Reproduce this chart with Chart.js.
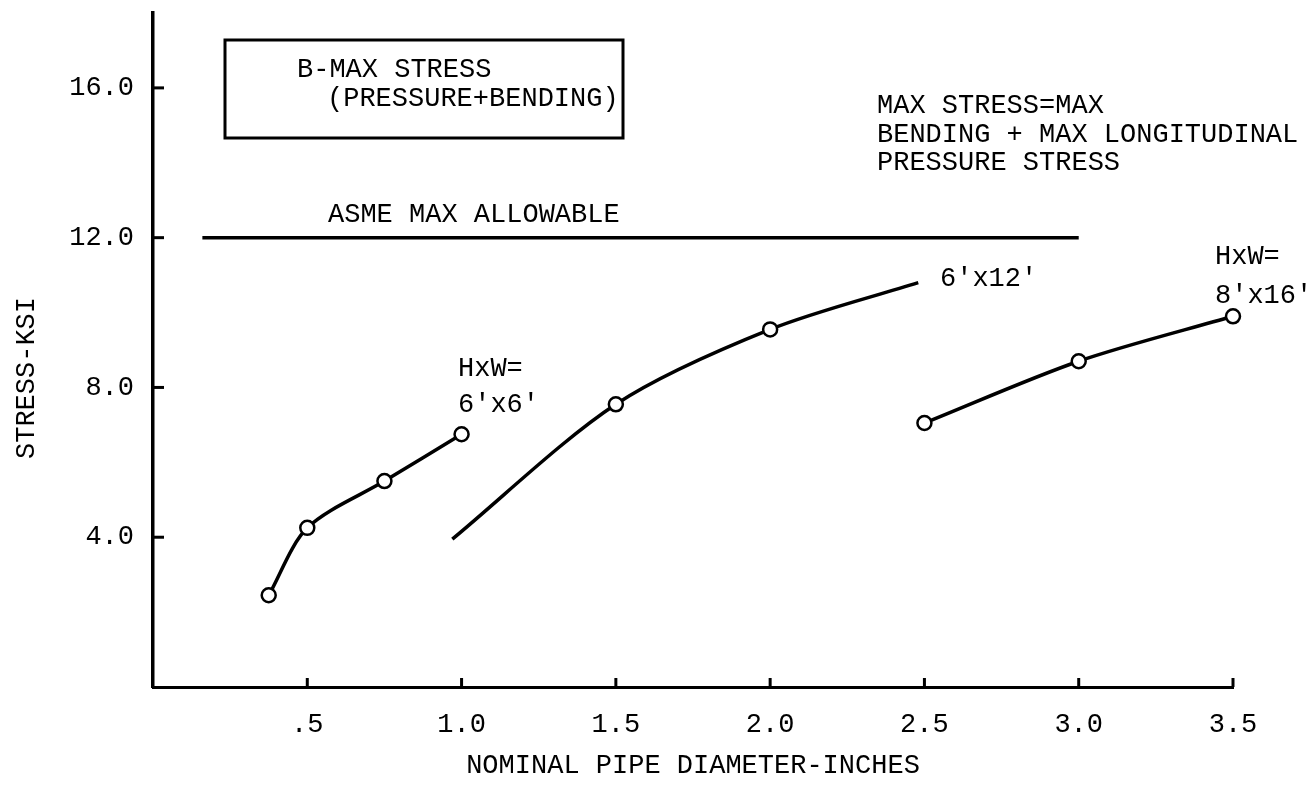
<!DOCTYPE html>
<html>
<head>
<meta charset="utf-8">
<script src="https://cdn.jsdelivr.net/npm/chart.js@4.4.1/dist/chart.umd.min.js"></script>
<style>
  html, body { margin: 0; padding: 0; background: #fff; }
  #wrap { width: 1313px; height: 788px; }
</style>
</head>
<body>
<div id="wrap"><canvas id="stressChart"></canvas></div>
<script>
// pipe sizes (in) and max stress (ksi) for each H x W frame
const sizes6x6 = [0.375, 0.5, 0.75, 1.0];
const stress6x6 = [2.45, 4.25, 5.5, 6.75];

const sizes6x12 = [0.97, 1.5, 2.0, 2.48];
const stress6x12 = [3.95, 7.55, 9.55, 10.8];
const markers6x12 = [0, 7, 7, 0]; // only the computed sizes get a circle

const sizes8x16 = [2.5, 3.0, 3.5];
const stress8x16 = [7.05, 8.7, 9.9];

const asmeSpan = [0.16, 3.0];
const asmeAllowable = 12.0;

const xTickValues = [0.5, 1.0, 1.5, 2.0, 2.5, 3.0, 3.5];
const xTickLabels = [".5", "1.0", "1.5", "2.0", "2.5", "3.0", "3.5"];
const yTickValues = [4, 8, 12, 16];

const FONT = '"Liberation Mono", "DejaVu Sans Mono", monospace';

const toPoints = (xs, ys) => xs.map((x, i) => ({ x: x, y: ys[i] }));

// typed notes: text, left edge, cap centre
const notes = [
  ["B-MAX STRESS", 297, 68],
  ["(PRESSURE+BENDING)", 327, 97],
  ["ASME MAX ALLOWABLE", 328, 213],
  ["MAX STRESS=MAX", 877, 104],
  ["BENDING + MAX LONGITUDINAL", 877, 133],
  ["PRESSURE STRESS", 877, 161],
  ["6'x12'", 940, 277],
  ["HxW=", 1215, 255],
  ["8'x16'", 1215, 294],
  ["HxW=", 458, 367],
  ["6'x6'", 458, 403],
];

const notesPlugin = {
  id: "notes",
  afterDraw(chart) {
    const { ctx, scales: { x, y } } = chart;
    ctx.save();
    ctx.strokeStyle = "#000";
    ctx.lineWidth = 3;

    // tick stubs point into the plot
    yTickValues.forEach((v) => {
      const py = y.getPixelForValue(v);
      ctx.beginPath();
      ctx.moveTo(x.left, py);
      ctx.lineTo(x.left + 11, py);
      ctx.stroke();
    });
    xTickValues.forEach((v) => {
      const px = x.getPixelForValue(v);
      ctx.beginPath();
      ctx.moveTo(px, y.bottom);
      ctx.lineTo(px, y.bottom - 9);
      ctx.stroke();
    });

    // boxed legend
    ctx.strokeRect(225, 40, 398, 98);

    ctx.fillStyle = "#000";
    ctx.font = "27px " + FONT;
    ctx.textAlign = "left";
    ctx.textBaseline = "alphabetic";
    notes.forEach(([text, nx, ny]) => ctx.fillText(text, nx, ny + 9));

    // y axis title
    ctx.translate(34, 378);
    ctx.rotate(-Math.PI / 2);
    ctx.textAlign = "center";
    ctx.fillText("STRESS-KSI", 0, 0);
    ctx.restore();
  },
};

const curveStyle = {
  borderColor: "#000",
  borderWidth: 3.5,
  pointRadius: 7,
  pointBackgroundColor: "#fff",
  pointBorderColor: "#000",
  pointBorderWidth: 2.5,
  tension: 0.3,
  fill: false,
  clip: false,
};

new Chart(document.getElementById("stressChart"), {
  type: "line",
  data: {
    datasets: [
      { label: "ASME max allowable", data: toPoints(asmeSpan, asmeSpan.map(() => asmeAllowable)),
        borderColor: "#000", borderWidth: 3.5, pointRadius: 0, tension: 0 },
      { label: "6'x6'", data: toPoints(sizes6x6, stress6x6), ...curveStyle },
      { label: "6'x12'", data: toPoints(sizes6x12, stress6x12), ...curveStyle, pointRadius: markers6x12 },
      { label: "8'x16'", data: toPoints(sizes8x16, stress8x16), ...curveStyle },
    ],
  },
  options: {
    responsive: true,
    maintainAspectRatio: false,
    animation: false,
    devicePixelRatio: 1,
    layout: { padding: { top: 13, right: 80, left: 0, bottom: 0 } },
    plugins: {
      legend: { display: false },
      tooltip: { enabled: false },
    },
    scales: {
      x: {
        type: "linear",
        min: 0,
        max: 3.5,
        afterBuildTicks: (scale) => {
          scale.ticks = xTickValues.map((v) => ({ value: v }));
        },
        afterFit: (scale) => {
          scale.height = 101;
          scale.paddingLeft = 0;
          scale.paddingRight = 0;
        },
        ticks: {
          autoSkip: false,
          maxRotation: 0,
          padding: 22,
          color: "#000",
          font: { size: 27, family: FONT },
          callback: (value, index) => xTickLabels[index],
        },
        grid: { drawOnChartArea: false, drawTicks: false },
        border: { color: "#000", width: 3 },
        title: {
          display: true,
          text: "NOMINAL PIPE DIAMETER-INCHES",
          color: "#000",
          font: { size: 27, family: FONT },
          padding: { top: 0, bottom: 6 },
        },
      },
      y: {
        type: "linear",
        min: 0,
        max: 18,
        afterBuildTicks: (scale) => {
          scale.ticks = yTickValues.map((v) => ({ value: v }));
        },
        afterFit: (scale) => {
          scale.width = 153;
          scale.paddingTop = 0;
          scale.paddingBottom = 0;
        },
        ticks: {
          padding: 19,
          color: "#000",
          font: { size: 27, family: FONT },
          callback: (value) => value.toFixed(1),
        },
        grid: { drawOnChartArea: false, drawTicks: false },
        border: { color: "#000", width: 3.5 },
      },
    },
  },
  plugins: [notesPlugin],
});
</script>
</body>
</html>
